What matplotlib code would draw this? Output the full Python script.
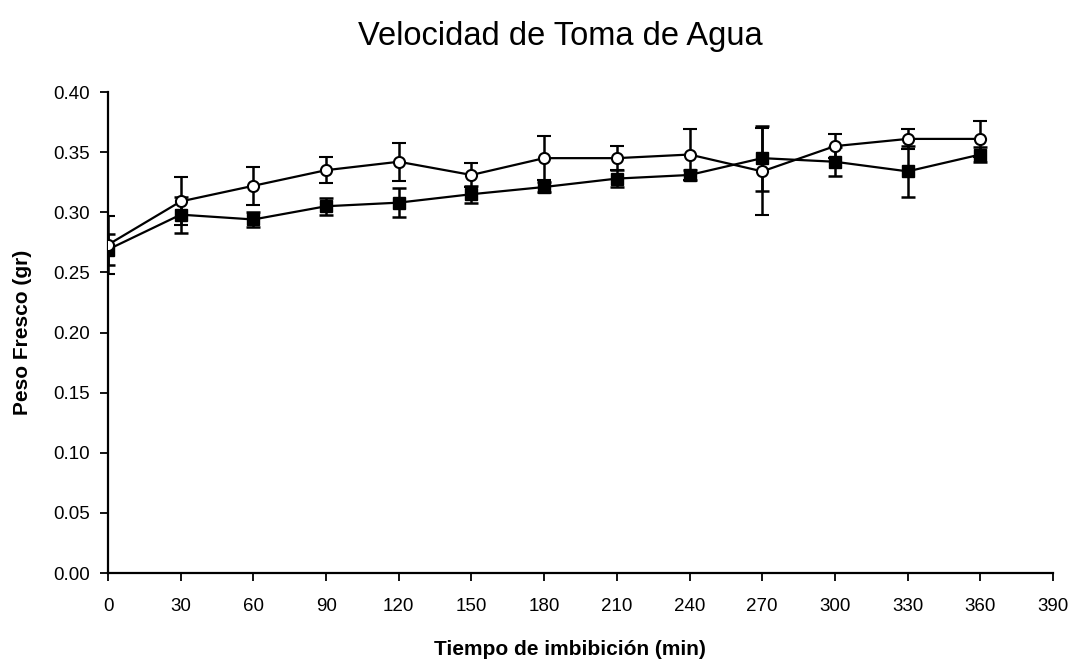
import matplotlib
matplotlib.use("Agg")
import matplotlib.pyplot as plt

tiempo = [0, 30, 60, 90, 120, 150, 180, 210, 240, 270, 300, 330, 360]
serie_circulo = [0.273, 0.309, 0.322, 0.335, 0.342, 0.331, 0.345, 0.345, 0.348, 0.334, 0.355, 0.361, 0.361]
error_circulo = [0.024, 0.020, 0.016, 0.011, 0.016, 0.010, 0.018, 0.010, 0.021, 0.036, 0.010, 0.008, 0.015]
serie_cuadrado = [0.269, 0.298, 0.294, 0.305, 0.308, 0.315, 0.321, 0.328, 0.331, 0.345, 0.342, 0.334, 0.348]
error_cuadrado = [0.013, 0.015, 0.006, 0.007, 0.012, 0.007, 0.004, 0.007, 0.004, 0.027, 0.012, 0.021, 0.006]

x_ticks = list(range(0, 391, 30))
y_ticks = [i * 0.05 for i in range(9)]

plt.rcParams['font.family'] = ['Liberation Sans', 'DejaVu Sans']

fig = plt.figure(figsize=(10.8, 6.6), dpi=100)
ax = fig.add_axes([0.1, 0.1318, 0.875, 0.7288])

ax.errorbar(tiempo, serie_cuadrado, yerr=error_cuadrado, color='black', lw=1.6,
            marker='s', ms=9, mfc='black', mec='black', capsize=4.7, capthick=1.8,
            elinewidth=1.8, zorder=3)
ax.errorbar(tiempo, serie_circulo, yerr=error_circulo, color='black', lw=1.6,
            marker='o', ms=8, mfc='white', mec='black', mew=1.5, capsize=4.7,
            capthick=1.8, elinewidth=1.8, zorder=4)

ax.set_xlim(0, 390)
ax.set_ylim(0, 0.40)
ax.set_xticks(x_ticks)
ax.set_xticklabels([str(v) for v in x_ticks])
ax.set_yticks(y_ticks)
ax.set_yticklabels([f"{v:.2f}" for v in y_ticks])

for s in ['top', 'right']:
    ax.spines[s].set_visible(False)
for s in ['left', 'bottom']:
    ax.spines[s].set_linewidth(1.6)
    ax.spines[s].set_color('black')

ax.tick_params(axis='both', direction='out', length=6, width=1.3, labelsize=13.5, colors='black')
ax.tick_params(axis='y', pad=7)
ax.tick_params(axis='x', pad=12)

ax.set_xlabel('Tiempo de imbibición (min)', fontsize=15, fontweight='bold')
ax.xaxis.set_label_coords(0.489, -0.14)
ax.set_ylabel('Peso Fresco (gr)', fontsize=15, fontweight='bold')
ax.yaxis.set_label_coords(-0.080, 0.5)
fig.text(0.519, 0.945, 'Velocidad de Toma de Agua', ha='center', va='center',
         fontsize=23.5)

fig.savefig('out.png', dpi=100)
